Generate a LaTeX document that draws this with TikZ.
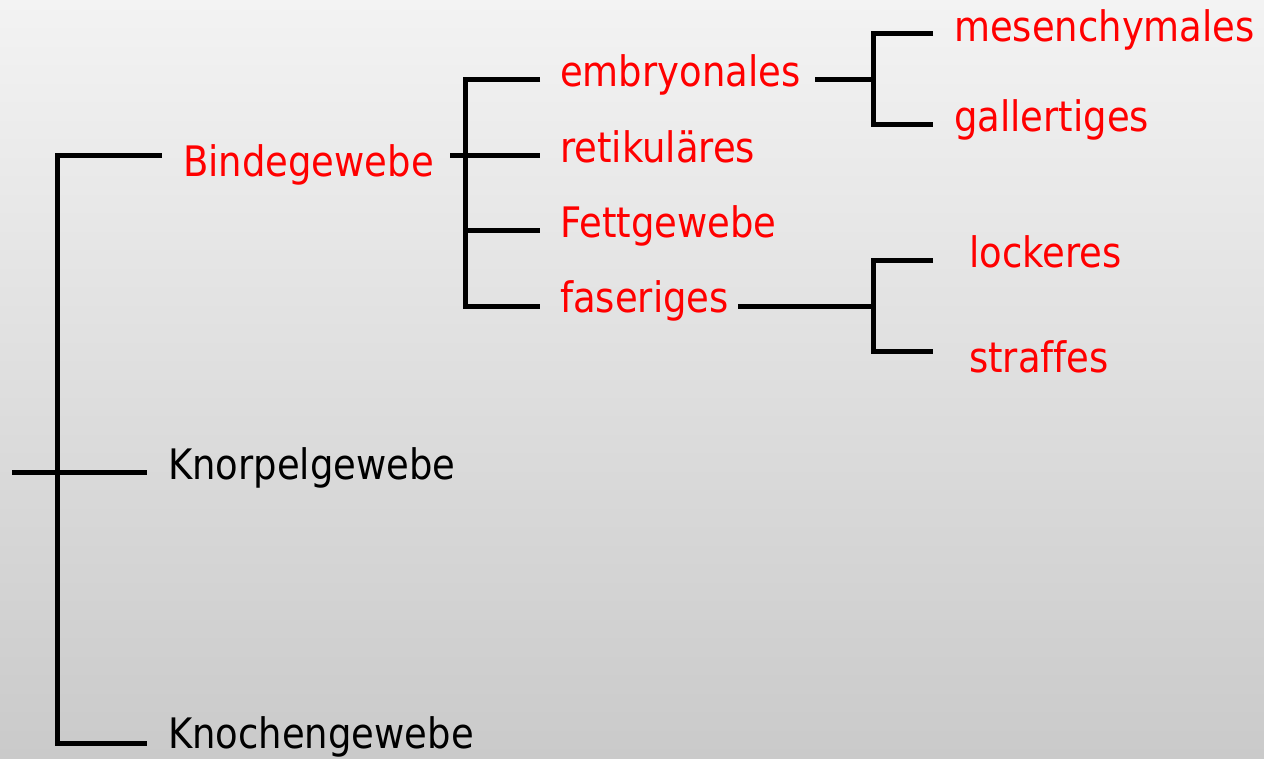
\documentclass[tikz,border=0pt]{standalone}
\usepackage{fontspec}
\setmainfont{DejaVu Sans}[FakeStretch=0.88, Ligatures=NoCommon]
\definecolor{termred}{RGB}{255,0,0}
\definecolor{bgtop}{RGB}{243,243,243}
\definecolor{bgbottom}{RGB}{202,202,202}
\tikzset{
  term/.style={anchor=base west, inner sep=0pt, font=\fontsize{42}{50}\selectfont},
  red term/.style={term, text=termred},
  branch/.style={line width=5pt, line join=miter, line cap=butt, draw=black}
}
\begin{document}
\begin{tikzpicture}[x=1pt, y=-1pt]
  % background
  \shade[top color=bgtop, bottom color=bgbottom] (0,0) rectangle (1264,758);
  \useasboundingbox (0,0) rectangle (1264,758);

  % labels
  \node[red term] (bind) at (183,176) {Bindegewebe};
  \node[term] (knorpel) at (168,479) {Knorpelgewebe};
  \node[term] (knochen) at (168,748) {Knochengewebe};
  \node[red term] (embryo) at (560,86) {embryonales};
  \node[red term] (retik) at (560,162) {retikuläres};
  \node[red term] (fett) at (560,237) {Fettgewebe};
  \node[red term] (faser) at (560,312) {faseriges};
  \node[red term] (mesen) at (954,41) {mesenchymales};
  \node[red term] (galler) at (954,131) {gallertiges};
  \node[red term] (locker) at (969,267) {lockeres};
  \node[red term] (straff) at (969,372) {straffes};

  % junction points
  \coordinate (root) at (12,472);
  \coordinate (r1) at (57,155);
  \coordinate (r2) at (57,472);
  \coordinate (r3) at (57,743);
  \coordinate (b0) at (450,155);
  \coordinate (b1) at (465,79);
  \coordinate (b4) at (465,306);
  \coordinate (e0) at (815,79);
  \coordinate (e1) at (873,79);
  \coordinate (e2) at (873,33);
  \coordinate (e3) at (873,124);
  \coordinate (f0) at (738,306);
  \coordinate (f1) at (873,306);
  \coordinate (f2) at (873,260);
  \coordinate (f3) at (873,351);

  % main bracket
  \draw[branch] (162,155) -- (r1) -- (r3) -- (147,743);
  \draw[branch] (root) -- (147,472);

  % Bindegewebe bracket
  \draw[branch] (540,79) -- (b1) -- (b4) -- (540,306);
  \draw[branch] (b0) -- (540,155);
  \draw[branch] (465,230) -- (540,230);

  % embryonales bracket
  \draw[branch] (e0) -- (e1);
  \draw[branch] (933,33) -- (e2) -- (e3) -- (933,124);

  % faseriges bracket
  \draw[branch] (f0) -- (f1);
  \draw[branch] (933,260) -- (f2) -- (f3) -- (933,351);
\end{tikzpicture}
\end{document}
